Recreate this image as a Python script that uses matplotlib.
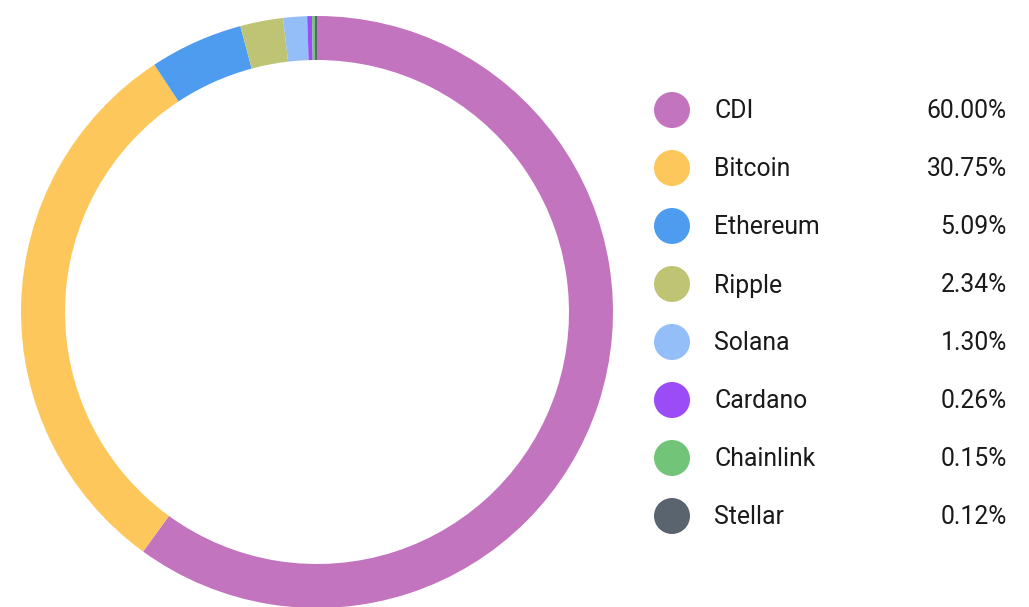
import matplotlib
matplotlib.use("Agg")
import matplotlib.pyplot as plt
from matplotlib.patches import Circle

labels = ["CDI", "Bitcoin", "Ethereum", "Ripple", "Solana", "Cardano", "Chainlink", "Stellar"]
shares = [60.00, 30.75, 5.09, 2.34, 1.30, 0.26, 0.15, 0.12]
colors = ["#C274BE", "#FEC75C", "#4E9CF0", "#BFC474", "#93BEF7", "#9B4CF7", "#72C479", "#5A646E"]

W, H = 1029, 607
fig = plt.figure(figsize=(W / 100, H / 100), dpi=100)
ax = fig.add_axes([0, 0, 1, 1])

# donut, pixel coords (y measured from bottom)
cx, cy, r_out = 317, H - 312, 296
ax.pie(shares, colors=colors, startangle=90, counterclock=False,
       center=(cx, cy), radius=r_out, frame=True,
       wedgeprops=dict(width=44, linewidth=0))
ax.set_xlim(0, W)
ax.set_ylim(0, H)
ax.set_aspect("equal")
ax.axis("off")

# legend
y0, step = 110, 58
for i, (lab, val, col) in enumerate(zip(labels, shares, colors)):
    y = H - (y0 + i * step)
    ax.add_patch(Circle((672, y), 18, color=col, lw=0))
    ax.text(714, y - 1.5, lab, fontsize=17.8, family="Roboto", color="#1a1a1a",
            va="center", ha="left")
    ax.text(1007, y - 1.5, f"{val:.2f}%", fontsize=17.8, family="Roboto", color="#1a1a1a",
            va="center", ha="right")

fig.savefig("out.png", dpi=100)
